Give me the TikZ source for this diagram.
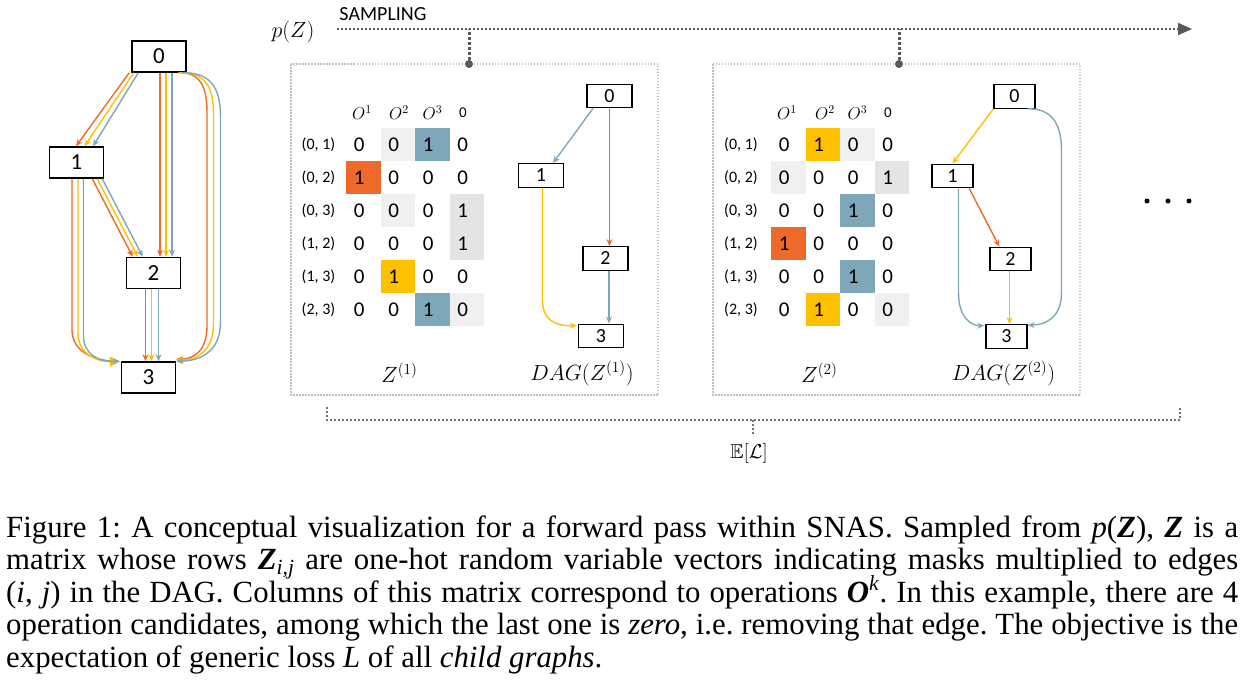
\RequirePackage{fix-cm}
\documentclass[tikz,border=0pt]{standalone}
\usepackage{fontspec}
\usepackage{amssymb}
\usepackage{graphicx}
\setmainfont{Liberation Serif}
\newfontfamily\calib{Carlito}
\usetikzlibrary{arrows.meta,calc}
\definecolor{corange}{HTML}{EE6A2A}
\definecolor{cyellow}{HTML}{FFC000}
\definecolor{cblue}{HTML}{7FA7BA}
\definecolor{lgray}{HTML}{F0F0F0}
\definecolor{dgray}{HTML}{E4E4E4}
\definecolor{framegray}{HTML}{C0C0C0}
\definecolor{darkg}{HTML}{595959}
\begin{document}
\begin{tikzpicture}[x=1pt,y=-1pt,
  bignode/.style={draw=black,line width=1.5pt,fill=white,minimum width=54pt,minimum height=31pt,inner sep=0pt,font=\calib\fontsize{23}{23}\selectfont},
  snode/.style={draw=black,line width=1.3pt,fill=white,minimum width=45pt,minimum height=23.5pt,inner sep=0pt,font=\calib\fontsize{20}{20}\selectfont},
  tnode/.style={snode,minimum width=41pt},
  cellbox/.style={draw=none,minimum width=34.5pt,minimum height=33pt,inner sep=0pt},
  digit/.style={inner sep=0pt,font=\calib\fontsize{21}{21}\selectfont},
  rowlab/.style={inner sep=0pt,font=\calib\fontsize{16}{16}\selectfont},
  hdr/.style={inner sep=0pt,font=\fontsize{17}{17}\selectfont},
  zhdr/.style={inner sep=0pt,font=\calib\fontsize{15}{15}\selectfont},
  mlab/.style={inner sep=0pt,font=\fontsize{22}{22}\selectfont},
  edg/.style={line width=1.4pt,-{Stealth[length=7pt,width=6pt]}},
  sedg/.style={line width=1.4pt,-{Stealth[length=7pt,width=6pt]}},
  topline/.style={draw=darkg,line width=2pt,dash pattern=on 2pt off 2pt},
  dropline/.style={draw=darkg,line width=3pt,dash pattern=on 3pt off 2pt},
  framebox/.style={draw=framegray,line width=1.5pt,dash pattern=on 1.5pt off 1.5pt},
  brk/.style={draw=darkg!85,line width=2pt,dash pattern=on 2pt off 2pt},
  dotn/.style={circle,fill=darkg,inner sep=0pt,minimum size=8pt},
  edot/.style={circle,fill=black,inner sep=0pt,minimum size=5pt},
  capline/.style={inner sep=0pt,anchor=base west,font=\fontsize{30.8}{30.8}\selectfont\frenchspacing}
]
\useasboundingbox (0,0) rectangle (1245,686);

% ---------------- left DAG ----------------
\node[bignode] (L0) at (159,56.5) {0};
\node[bignode] (L1) at (76.5,162.5) {1};
\node[bignode] (L2) at (153.5,273) {2};
\node[bignode] (L3) at (148.5,377.5) {3};

% 0 -> 1
\draw[edg,corange] ([xshift=-2pt]L0.south west) -- ([xshift=-0.5pt]L1.north);
\draw[edg,cyellow] ([xshift=2.5pt]L0.south west) -- ([xshift=8pt]L1.north);
\draw[edg,cblue]   ([xshift=7pt]L0.south west) -- ([xshift=16.5pt]L1.north);
% 0 -> 2
\draw[edg,corange] ([xshift=1pt]L0.south) -- ([xshift=1pt]L0.south |- L2.north);
\draw[edg,cyellow] ([xshift=7pt]L0.south) -- ([xshift=7pt]L0.south |- L2.north);
\draw[edg,cblue]   ([xshift=13pt]L0.south) -- ([xshift=13pt]L0.south |- L2.north);
% 0 -> 3
\draw[edg,corange] ([xshift=-9pt]L0.south east) .. controls (197,72) and (207,82) .. (207,112) -- (207,326) .. controls (207,350) and (195,359) .. ([yshift=2pt]L3.north east);
\draw[edg,cyellow] ([xshift=-7pt]L0.south east) .. controls (203,72) and (213.5,84) .. (213.5,114) -- (213.5,324) .. controls (213.5,350) and (198,360) .. ([yshift=1pt]L3.north east);
\draw[edg,cblue]   ([xshift=-5pt]L0.south east) .. controls (209,72) and (220.5,86) .. (220.5,116) -- (220.5,322) .. controls (220.5,352) and (200,361) .. (L3.north east);
% 1 -> 2
\draw[edg,corange] ([xshift=-12pt]L1.south east) -- ([xshift=7pt]L2.north west);
\draw[edg,cyellow] ([xshift=-7pt]L1.south east) -- ([xshift=12pt]L2.north west);
\draw[edg,cblue]   ([xshift=-2pt]L1.south east) -- ([xshift=17pt]L2.north west);
% 1 -> 3
\draw[edg,corange] ([xshift=-4.5pt]L1.south) -- (72,330) .. controls (72,352) and (95,361) .. ([xshift=-1pt]L3.north west);
\draw[line width=1.4pt,cyellow,-{Triangle[length=10pt,width=10pt]}] ([xshift=1.5pt]L1.south) -- (78,333) .. controls (78,353) and (96,362) .. ([xshift=-1pt]L3.north west);
\draw[edg,cblue]   ([xshift=7pt]L1.south) -- (83.5,336) .. controls (83.5,354) and (98,362) .. ([xshift=-1pt]L3.north west);
% 2 -> 3
\draw[edg,corange] ([xshift=-8pt]L2.south) -- ([xshift=-8pt]L2.south |- L3.north);
\draw[edg,cyellow] ([xshift=-2pt]L2.south) -- ([xshift=-2pt]L2.south |- L3.north);
\draw[edg,cblue]   ([xshift=5pt]L2.south) -- ([xshift=5pt]L2.south |- L3.north);

% ---------------- sampling line ----------------
\node[mlab] (pZ) at (293,32) {$p(Z)$};
\node[inner sep=0pt,font=\calib\fontsize{20}{20}\selectfont] (samp) at (383,14) {SAMPLING};
\coordinate (ts) at (337,29);
\coordinate (te) at (1192,29);
\draw[topline,-{Triangle[length=14pt,width=12pt]}] (ts) -- (te);

% ---------------- frames ----------------
\draw[framebox] (291,64) rectangle (658,395);
\draw[framebox] (713,64) rectangle (1080,395);
\node[dotn] (d1) at (469,64) {};
\node[dotn] (d2) at (899,64) {};
\draw[dropline] (d1) -- (d1 |- ts);
\draw[dropline] (d2) -- (d2 |- ts);

% ---------------- matrix Z(1) ----------------
\foreach \r/\c/\f in {1/2/lgray,1/3/cblue,2/1/corange,3/2/lgray,3/4/dgray,4/4/dgray,5/2/cyellow,6/3/cblue,6/4/lgray}
  \node[cellbox,fill=\f] (zac\r\c) at ({346+34.5*(\c-0.5)},{128+33*(\r-0.5)}) {};
\foreach \r/\va/\vb/\vc/\vd in {1/0/0/1/0,2/1/0/0/0,3/0/0/0/1,4/0/0/0/1,5/0/1/0/0,6/0/0/1/0}{
  \foreach[count=\k] \v in {\va,\vb,\vc,\vd}
    \node[digit] (zad\r\k) at ({346+34.5*(\k-0.5)-4},{128+33*(\r-0.5)+0.5}) {\v};
}
% ---------------- matrix Z(2) ----------------
\foreach \r/\c/\f in {1/2/cyellow,1/3/lgray,2/1/lgray,2/4/dgray,3/3/cblue,4/1/corange,5/3/cblue,6/2/cyellow,6/4/lgray}
  \node[cellbox,fill=\f] (zbc\r\c) at ({771+34.5*(\c-0.5)},{128+33*(\r-0.5)}) {};
\foreach \r/\va/\vb/\vc/\vd in {1/0/1/0/0,2/0/0/0/1,3/0/0/1/0,4/1/0/0/0,5/0/0/1/0,6/0/1/0/0}{
  \foreach[count=\k] \v in {\va,\vb,\vc,\vd}
    \node[digit] (zbd\r\k) at ({771+34.5*(\k-0.5)-4},{128+33*(\r-0.5)+0.5}) {\v};
}
% row labels
\foreach \r/\lab in {1/{(0, 1)},2/{(0, 2)},3/{(0, 3)},4/{(1, 2)},5/{(1, 3)},6/{(2, 3)}}{
  \node[rowlab] (zal\r) at (318.5,{128+33*(\r-0.5)+0.5}) {\lab};
  \node[rowlab] (zbl\r) at (741,{128+33*(\r-0.5)+0.5}) {\lab};
}
% headers
\node[hdr] (zah1) at (362,113) {$O^1$};
\node[hdr] (zah2) at (399,113) {$O^2$};
\node[hdr] (zah3) at (432.5,113) {$O^3$};
\node[zhdr] (zah4) at (463,113) {0};
\node[hdr] (zbh1) at (787,113) {$O^1$};
\node[hdr] (zbh2) at (825,113) {$O^2$};
\node[hdr] (zbh3) at (857.5,113) {$O^3$};
\node[zhdr] (zbh4) at (888,113) {0};

% ---------------- DAG(Z(1)) ----------------
\node[snode] (A0) at (609.5,96) {0};
\node[snode] (A1) at (541,175.5) {1};
\node[snode] (A2) at (605.5,258.5) {2};
\node[snode] (A3) at (601,336) {3};
\draw[sedg,cblue] ([xshift=-16.5pt]A0.south) -- ([xshift=12pt]A1.north);
\draw[sedg,corange] (A0.south) -- (A0.south |- A2.north);
\draw[sedg,cyellow] ([xshift=1.5pt]A1.south) -- (542.5,300) .. controls (542.5,320) and (555,326) .. ([yshift=-2pt,xshift=-1pt]A3.north west);
\draw[sedg,cblue] ([xshift=3.5pt]A2.south) -- ([xshift=3.5pt]A2.south |- A3.north);

% ---------------- DAG(Z(2)) ----------------
\node[tnode] (B0) at (1014.5,96.5) {0};
\node[tnode] (B1) at (952.5,176) {1};
\node[tnode] (B2) at (1010.5,259) {2};
\node[tnode] (B3) at (1006.5,336.5) {3};
\draw[sedg,cyellow] (B0.south west) -- (B1.north);
\draw[sedg,cblue] ([xshift=-8pt]B0.south east) .. controls (1050,108) and (1061.5,122) .. (1061.5,150) -- (1061.5,293) .. controls (1061.5,318) and (1045,325) .. ([yshift=-1pt]B3.north east);
\draw[sedg,corange] ([xshift=-4.5pt]B1.south east) -- ([xshift=10pt]B2.north west);
\draw[sedg,cblue] ([xshift=6pt]B1.south) -- (958.5,293) .. controls (958.5,316) and (970,326) .. ([yshift=-1.5pt,xshift=-1pt]B3.north west);
\draw[sedg,cyellow] ([xshift=-1pt]B2.south) -- ([xshift=-1pt]B2.south |- B3.north);

% labels
\node[mlab] (za) at (399.5,373) {$Z^{(1)}$};
\node[mlab] (zadag) at (582,373) {$DAG(Z^{(1)})$};
\node[mlab] (zb) at (819.5,373) {$Z^{(2)}$};
\node[mlab] (zbdag) at (1003.5,373) {$DAG(Z^{(2)})$};

% ellipsis
\foreach \i/\x in {1/1147,2/1168,3/1189}
  \node[edot] (e\i) at (\x,201) {};

% ---------------- bottom bracket ----------------
\coordinate (bl) at (327,407);
\coordinate (br) at (1180,407);
\draw[brk] (bl) -- ++(0,13) -| (br);
\coordinate (bm) at (753,420);
\draw[brk] (bm) -- ++(0,15);
\node[inner sep=0pt,font=\fontsize{20}{20}\selectfont] (EL) at (749,453) {$\mathbb{E}[\mathcal{L}]$};

% ---------------- caption ----------------
\node[capline] (cap1) at (6,537) {\makebox[1232pt][s]{Figure 1: A conceptual visualization for a forward pass within SNAS. Sampled from \textit{p}(\textbf{\textit{Z}}), \textbf{\textit{Z}} is a}};
\node[capline] (cap2) at (6,569.5) {\makebox[1232pt][s]{matrix whose rows \textbf{\textit{Z}}\textsubscript{\textit{i,j}} are one-hot random variable vectors indicating masks multiplied to edges}};
\node[capline] (cap3) at (6,602) {\makebox[1232pt][s]{(\textit{i}, \textit{j}) in the DAG. Columns of this matrix correspond to operations \textbf{\textit{O}}\textsuperscript{\textit{k}}. In this example, there are 4}};
\node[capline] (cap4) at (6,634.5) {\makebox[1232pt][s]{operation candidates, among which the last one is \textit{zero}, i.e. removing that edge. The objective is the}};
\node[capline] (cap5) at (6,667) {expectation of generic loss \textit{L} of all \textit{child graphs}.};
\end{tikzpicture}
\end{document}
